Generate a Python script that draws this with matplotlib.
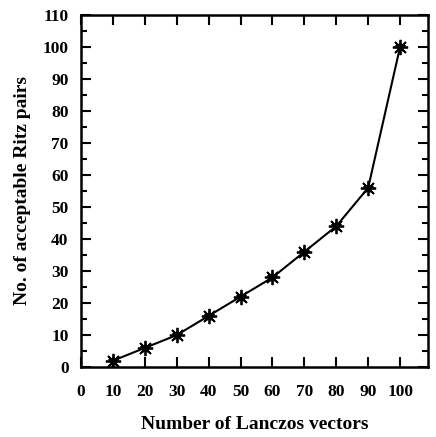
import matplotlib
matplotlib.use("Agg")
import matplotlib.pyplot as plt
from matplotlib.ticker import MultipleLocator

# data
n_vectors = [10, 20, 30, 40, 50, 60, 70, 80, 90, 100]
ritz_pairs = [2, 6, 10, 16, 22, 28, 36, 44, 56, 100]

plt.rcParams['font.family'] = 'Liberation Serif'
plt.rcParams['font.weight'] = 'bold'
plt.rcParams['axes.labelweight'] = 'bold'

fig = plt.figure(figsize=(4.36, 4.37), dpi=100)
ax = fig.add_axes([0.186, 0.160, 0.796, 0.806])

ax.plot(n_vectors, ritz_pairs, color='black', lw=1.5,
        marker='*', markersize=8, markeredgewidth=0.8)
# asterisk overlay so the marks look like the printed ones
ax.plot(n_vectors, ritz_pairs, ls='none', color='black',
        marker=(8, 2, 0), markersize=11, markeredgewidth=1.3)

ax.set_xlim(0, 108.8)
ax.set_ylim(0, 110)
ax.xaxis.set_major_locator(MultipleLocator(10))
ax.yaxis.set_major_locator(MultipleLocator(10))
ax.yaxis.set_minor_locator(MultipleLocator(5))

ax.tick_params(which='both', direction='in', top=True, right=True, width=1.5, labelsize=12.5)
ax.tick_params(which='major', length=7)
ax.tick_params(which='minor', length=4)
ax.tick_params(axis='x', pad=12)
ax.tick_params(axis='y', pad=9)
for s in ax.spines.values():
    s.set_linewidth(1.8)

ax.set_xlabel("Number of Lanczos vectors", fontsize=14, labelpad=12)
ax.set_ylabel("No. of acceptable Ritz pairs", fontsize=14, labelpad=8)

fig.savefig("out.png", dpi=100)
